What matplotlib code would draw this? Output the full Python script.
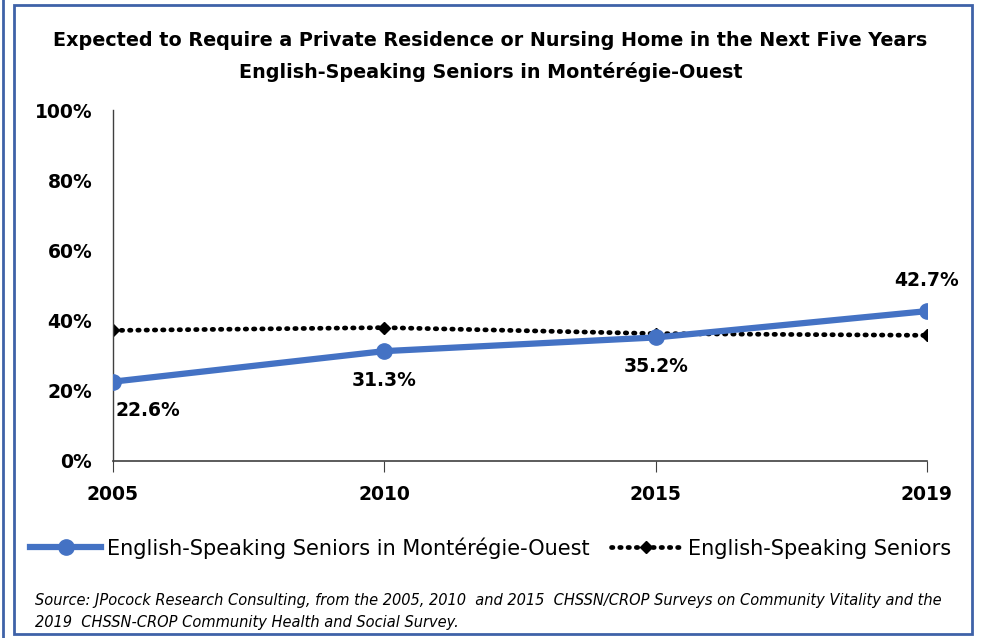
import matplotlib
matplotlib.use("Agg")
import matplotlib.pyplot as plt
from matplotlib.patches import Rectangle
from matplotlib.lines import Line2D

years = ["2005", "2010", "2015", "2019"]
monteregie = [22.6, 31.3, 35.2, 42.7]
all_seniors = [37.2, 38.0, 36.3, 35.8]
y_ticks = [0, 20, 40, 60, 80, 100]
y_tick_labels = ["0%", "20%", "40%", "60%", "80%", "100%"]
series_names = ["English-Speaking Seniors in Montérégie-Ouest", "English-Speaking Seniors"]
title_lines = ["Expected to Require a Private Residence or Nursing Home in the Next Five Years",
               "English-Speaking Seniors in Montérégie-Ouest"]
source_lines = ["Source: JPocock Research Consulting, from the 2005, 2010  and 2015  CHSSN/CROP Surveys on Community Vitality and the",
                "2019  CHSSN-CROP Community Health and Social Survey."]

plt.rcParams['font.family'] = ['DejaVu Sans']

W, H = 981, 638
fig = plt.figure(figsize=(W / 100, H / 100), dpi=100)

def fx(px):
    return px / W

def fy(py):
    return 1 - py / H

# frame
frame_col = "#3f62a8"
fig.add_artist(Rectangle((fx(14), fy(634)), fx(972) - fx(14), fy(5) - fy(634),
                         transform=fig.transFigure, fill=False, edgecolor=frame_col, lw=2))
fig.add_artist(Line2D([fx(3), fx(3)], [fy(0), fy(638)], transform=fig.transFigure,
                      color=frame_col, lw=2))

ax = fig.add_axes([fx(113), fy(461), fx(927) - fx(113), fy(110) - fy(461)])
x = list(range(len(years)))
ax.plot(x, all_seniors, color="black", lw=3.4, linestyle=(0, (0.3, 1.45)),
        dash_capstyle="round", marker="D", markersize=6, label=series_names[1], zorder=2)
ax.plot(x, monteregie, color="#4472C4", lw=4.5, marker="o", markersize=11,
        label=series_names[0], zorder=3)

ax.set_xlim(0, 3)
ax.set_ylim(0, 100)
ax.set_yticks(y_ticks)
ax.set_yticklabels(y_tick_labels, fontsize=13.5, fontweight="bold")
ax.set_xticks(x)
ax.set_xticklabels(years, fontsize=13.5, fontweight="bold")
ax.tick_params(axis="y", length=0, pad=15)
ax.tick_params(axis="x", length=8, direction="out", pad=9, color="#404040")
for s in ["top", "right"]:
    ax.spines[s].set_visible(False)
ax.spines["left"].set_color("#404040")
ax.spines["bottom"].set_color("#404040")
ax.spines["left"].set_linewidth(1)
ax.spines["bottom"].set_linewidth(1.2)
ax.set_facecolor("none")
for sp in ax.spines.values():
    sp.set_clip_on(False)

# data labels
offsets = [(2, -21, "left"), (0, -21, "center"), (0, -21, "center"), (0, 22, "center")]
for i, v in enumerate(monteregie):
    dx, dy, ha = offsets[i]
    ax.annotate(f"{v:.1f}%", (i, v), xytext=(dx, dy), textcoords="offset points",
                ha=ha, va="center", fontsize=13.5, fontweight="bold")

# title
fig.text(0.5, fy(40), title_lines[0], ha="center", va="center", fontsize=13.8, fontweight="bold")
fig.text(0.5, fy(72), title_lines[1], ha="center", va="center", fontsize=13.8, fontweight="bold")

# legend
handles, labels = ax.get_legend_handles_labels()
order = [1, 0]
leg = fig.legend([handles[i] for i in order], [labels[i] for i in order],
                 loc="center", bbox_to_anchor=(0.5, fy(548)), ncol=2, frameon=False,
                 fontsize=15, handlelength=3.4, columnspacing=1.0, handletextpad=0.3)

# source
fig.text(fx(35), fy(600), source_lines[0], ha="left", va="center", fontsize=10.5, style="italic")
fig.text(fx(35), fy(622), source_lines[1], ha="left", va="center", fontsize=10.5, style="italic")

fig.savefig("out.png", dpi=100)
